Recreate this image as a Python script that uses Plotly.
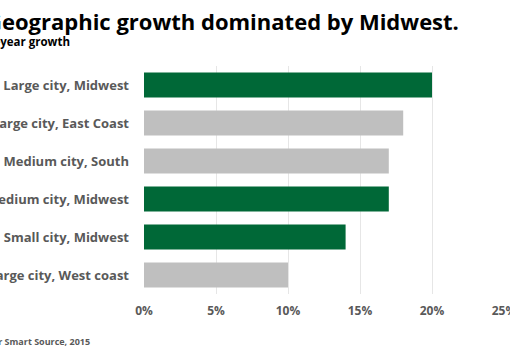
import plotly.graph_objects as go

categories = ["Large city, Midwest", "Large city, East Coast", "Medium city, South",
              "Medium city, Midwest", "Small city, Midwest", "Large city, West coast"]
growth = [20, 18, 17, 17, 14, 10]
is_midwest = [True, False, False, True, True, False]
tick_vals = [0, 5, 10, 15, 20, 25]
tick_text = ["0%", "5%", "10%", "15%", "20%", "25%"]

GREEN = "#006837"
GRAY = "#BFBFBF"
colors = [GREEN if m else GRAY for m in is_midwest]

W, H = 510, 350
ml, mr, mt, mb = 144, 6, 66, 56
pw, ph = W - ml - mr, H - mt - mb

def px(x):
    return (x - ml) / pw

def py(y):
    return (H - mb - y) / ph

fig = go.Figure(go.Bar(
    x=growth, y=categories, orientation="h",
    marker=dict(color=colors, line=dict(width=0)),
    hoverinfo="skip",
))

FONT = "Open Sans"
fig.update_layout(
    width=W, height=H,
    margin=dict(l=ml, r=mr, t=mt, b=mb, autoexpand=False),
    paper_bgcolor="white", plot_bgcolor="white",
    bargap=0.34,
    showlegend=False,
    font=dict(family=FONT),
    xaxis=dict(range=[0, 25], tickvals=tick_vals, ticktext=tick_text,
               showgrid=True, gridcolor="#E6E6E6", gridwidth=1,
               zeroline=False, showline=False, ticks="", automargin=False,
               ticklabeloverflow="allow",
               tickfont=dict(family=FONT, size=12, color="#595959", weight="bold"),
               ticklabelstandoff=8, fixedrange=True),
    yaxis=dict(categoryorder="array", categoryarray=categories[::-1],
               showgrid=False, zeroline=False, showline=False, ticks="", automargin=False,
               ticklabeloverflow="allow",
               tickfont=dict(family=FONT, size=13, color="#595959", weight="bold"),
               ticklabelstandoff=14, fixedrange=True),
    annotations=[
        dict(text="Geographic growth dominated by Midwest.", xref="paper", yref="paper",
             x=px(461), y=py(21), xanchor="right", yanchor="middle", showarrow=False,
             font=dict(family=FONT, size=22, color="#000000", weight="bold")),
        dict(text="Year-over-year growth", xref="paper", yref="paper",
             x=px(72), y=py(42), xanchor="right", yanchor="middle", showarrow=False,
             font=dict(family=FONT, size=11.5, color="#000000", weight="bold")),
        dict(text="Source: Consumer Smart Source, 2015", xref="paper", yref="paper",
             x=px(92), y=py(341), xanchor="right", yanchor="middle", showarrow=False,
             font=dict(family=FONT, size=9, color="#595959", weight="bold")),
    ],
)

fig.write_html("out.html", config={"displayModeBar": False})
